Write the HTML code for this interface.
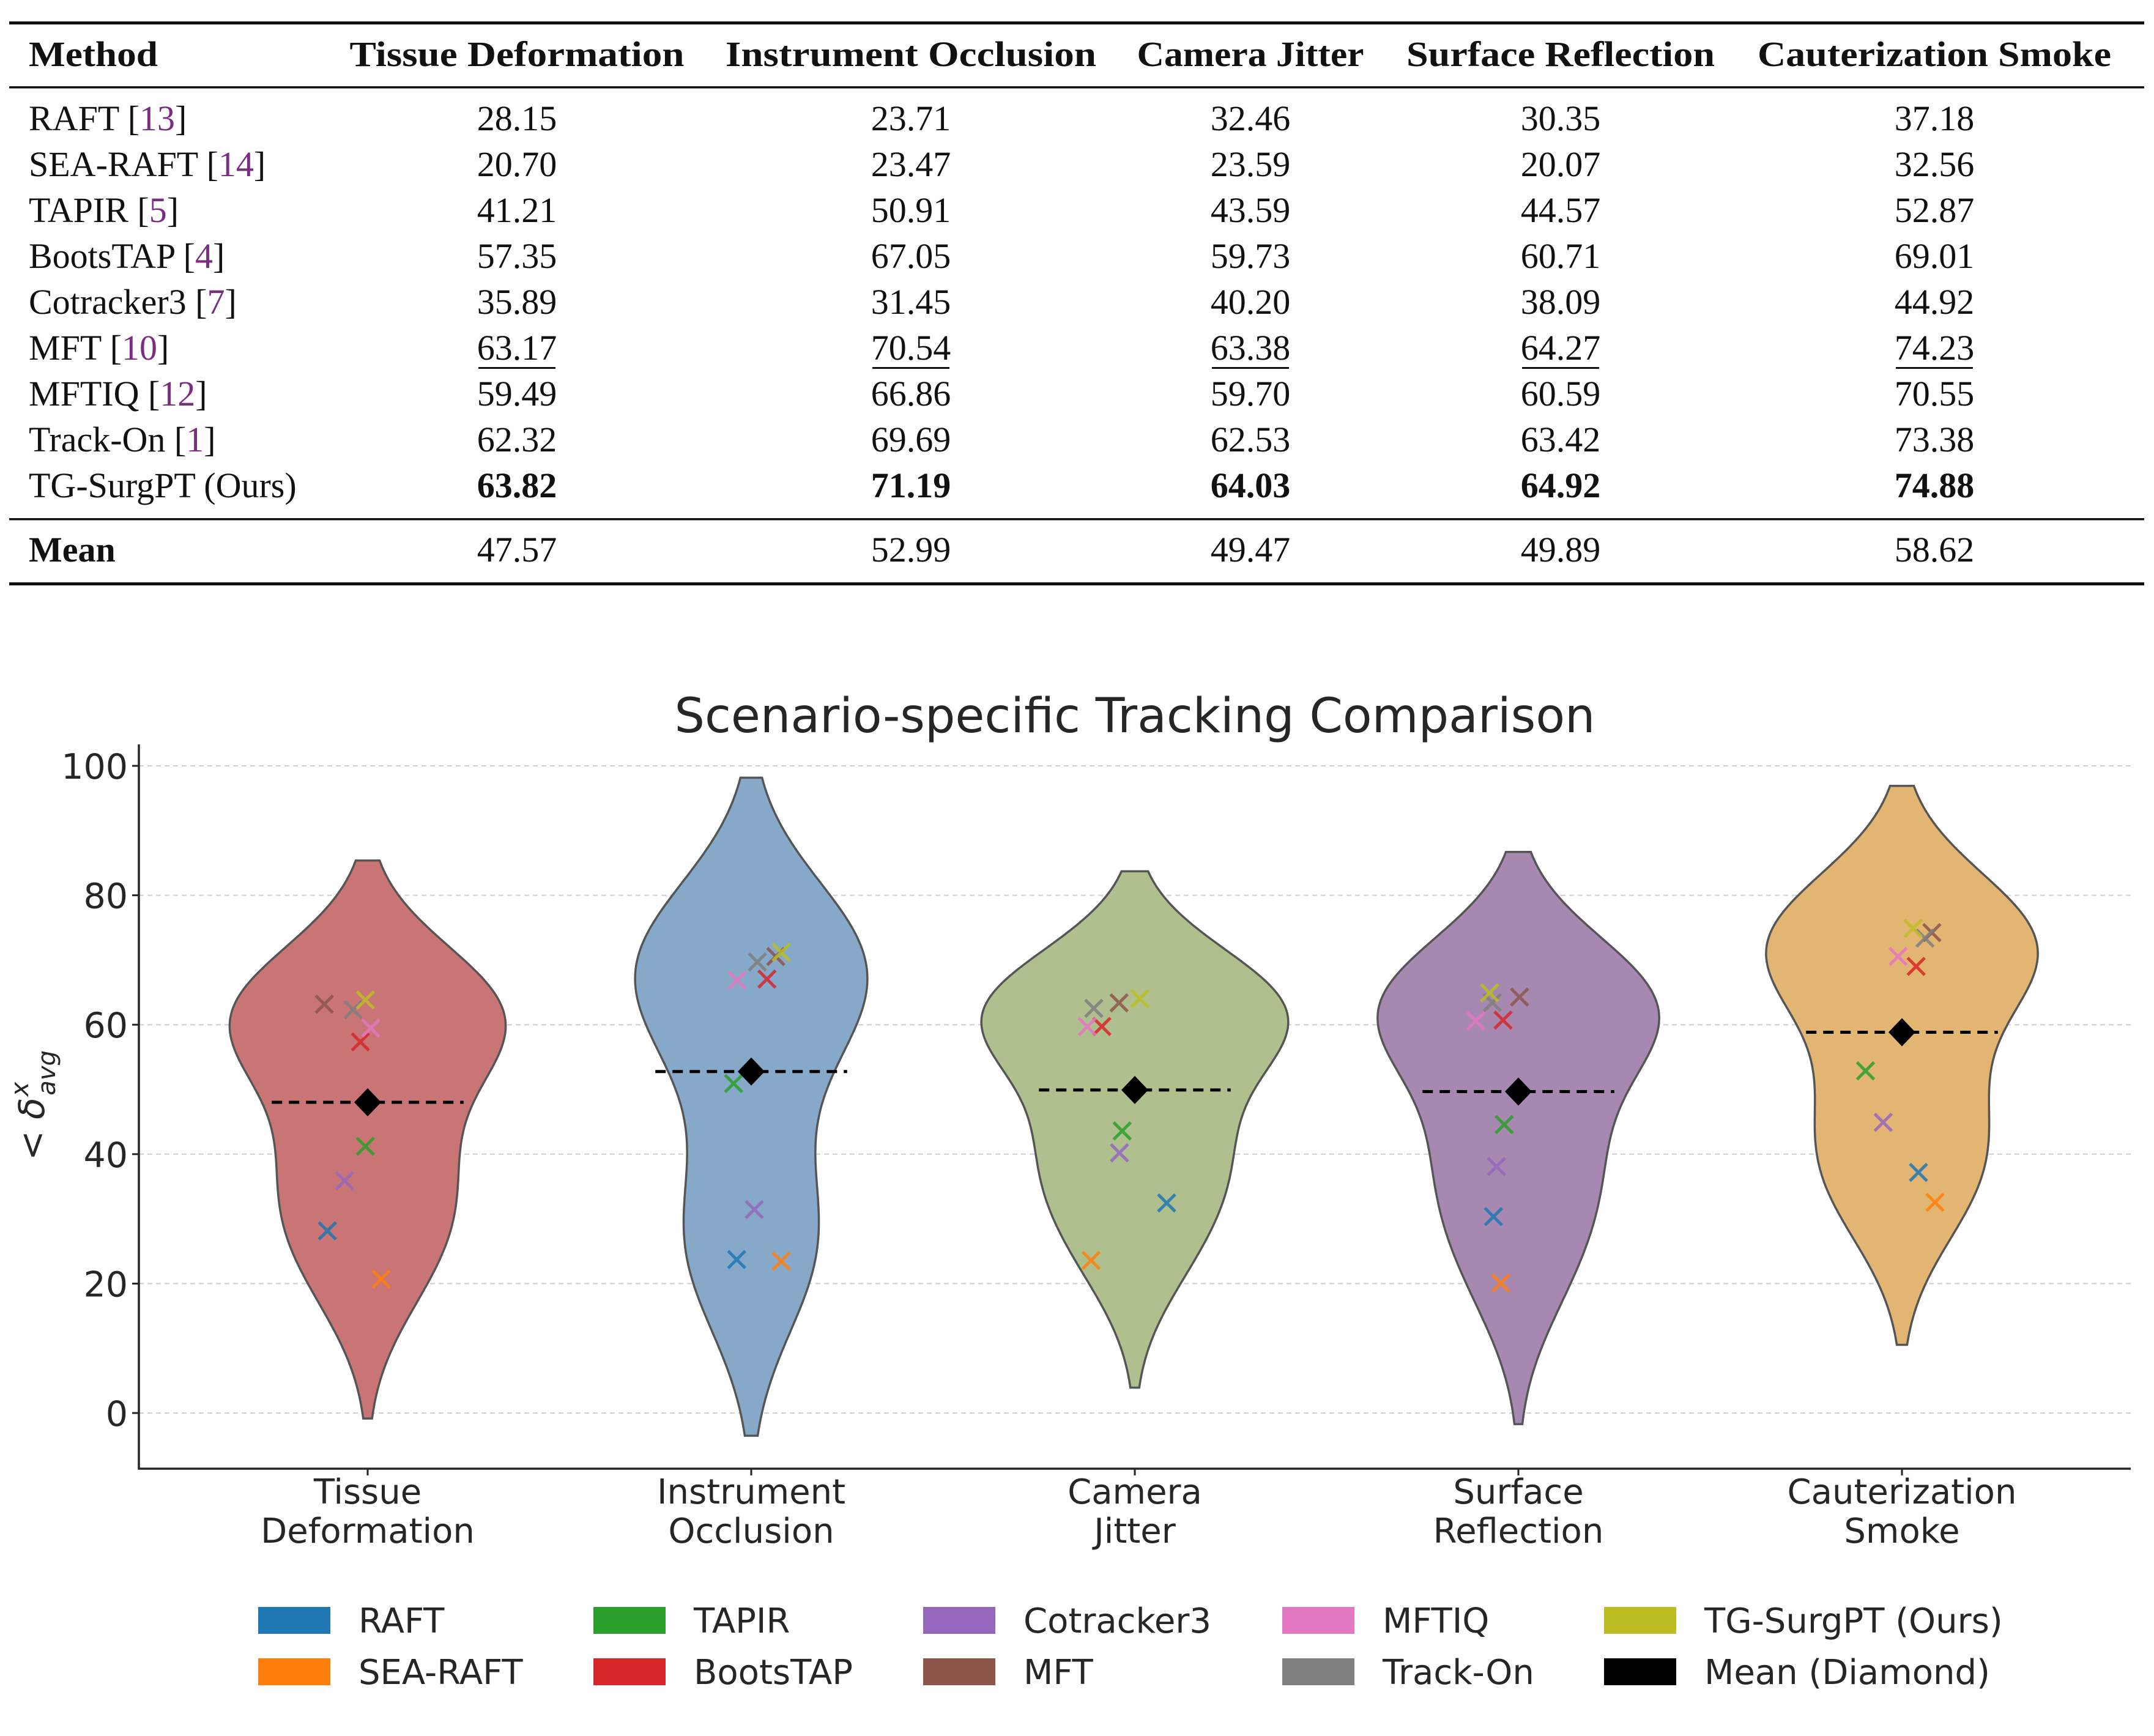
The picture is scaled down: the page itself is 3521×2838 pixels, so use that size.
<!DOCTYPE html>
<html><head><meta charset="utf-8">
<style>
html,body{margin:0;padding:0;background:#fff;}
svg{display:block;}
.tb{font-family:"Liberation Serif",serif;font-size:58px;fill:#111;}
.ch{font-family:"DejaVu Sans","Liberation Sans",sans-serif;fill:#262626;}
</style></head>
<body>
<svg id="page" width="3521" height="2838" viewBox="0 0 3521 2838" xmlns="http://www.w3.org/2000/svg">
<g id="table"></g>
<g id="chart"></g>
</svg>
<script>
const categories = ["Tissue Deformation","Instrument Occlusion","Camera Jitter","Surface Reflection","Cauterization Smoke"];
const catLines = [["Tissue","Deformation"],["Instrument","Occlusion"],["Camera","Jitter"],["Surface","Reflection"],["Cauterization","Smoke"]];
const methods = ["RAFT","SEA-RAFT","TAPIR","BootsTAP","Cotracker3","MFT","MFTIQ","Track-On","TG-SurgPT (Ours)"];
const cites = ["13","14","5","4","7","10","12","1",""];
const raft = [28.15,23.71,32.46,30.35,37.18];
const seaRaft = [20.70,23.47,23.59,20.07,32.56];
const tapir = [41.21,50.91,43.59,44.57,52.87];
const bootsTap = [57.35,67.05,59.73,60.71,69.01];
const cotracker3 = [35.89,31.45,40.20,38.09,44.92];
const mft = [63.17,70.54,63.38,64.27,74.23];
const mftiq = [59.49,66.86,59.70,60.59,70.55];
const trackOn = [62.32,69.69,62.53,63.42,73.38];
const tgSurgPT = [63.82,71.19,64.03,64.92,74.88];
const tableMeans = ["47.57","52.99","49.47","49.89","58.62"];
const yTicks = [0,20,40,60,80,100];
// horizontal jitter of markers (category units), per scenario, in method order
const jitterTissue = [-0.105,0.035,-0.006,-0.019,-0.060,-0.113,0.008,-0.038,-0.006];
const jitterInstr = [-0.038,0.078,-0.046,0.041,0.008,0.064,-0.037,0.016,0.078];
const jitterCamera = [0.083,-0.114,-0.033,-0.086,-0.040,-0.041,-0.124,-0.107,0.013];
const jitterSurface = [-0.065,-0.046,-0.037,-0.040,-0.057,0.003,-0.111,-0.068,-0.075];
const jitterCaut = [0.043,0.086,-0.095,0.037,-0.049,0.078,-0.010,0.060,0.029];

const series = [raft,seaRaft,tapir,bootsTap,cotracker3,mft,mftiq,trackOn,tgSurgPT];
const jitters = [jitterTissue,jitterInstr,jitterCamera,jitterSurface,jitterCaut];
const methodColors = ["#1f77b4","#ff7f0e","#2ca02c","#d62728","#9467bd","#8c564b","#e377c2","#7f7f7f","#bcbd22"];
const violinColors = ["#c97575","#87a9c9","#afc08e","#a788b1","#e3b572"];

const NS="http://www.w3.org/2000/svg";
function mk(tag,attrs,parent,txt){const e=document.createElementNS(NS,tag);for(const k in attrs)e.setAttribute(k,attrs[k]);if(txt!==undefined)e.textContent=txt;parent.appendChild(e);return e;}

/* ---------------- TABLE ---------------- */
const T=document.getElementById('table');
const colX=[845,1489,2044,2551,3162];
const headW=[547,606,371,504,578];
let r=mk('rect',{x:15,y:35,width:3490,height:5,fill:'#111'},T);

r=mk('rect',{x:15,y:141,width:3490,height:3.5,fill:'#111'},T);

r=mk('rect',{x:15,y:847,width:3490,height:3.5,fill:'#111'},T);

r=mk('rect',{x:15,y:952,width:3490,height:5,fill:'#111'},T);

let t=mk('text',{x:47,y:108,class:'tb','font-weight':'bold',textLength:211,lengthAdjust:'spacingAndGlyphs'},T,'Method');

categories.forEach((c,i)=>{
  const h=mk('text',{x:colX[i],y:108,class:'tb','font-weight':'bold','text-anchor':'middle',textLength:headW[i],lengthAdjust:'spacingAndGlyphs'},T,c);
  
  
});
methods.forEach((m,k)=>{
  const y=213+75*k;
  const lab=mk('text',{x:47,y:y,class:'tb'},T);
  
  
  if(cites[k]){
    mk('tspan',{},lab,m+' [');
    mk('tspan',{fill:'#7b2d82'},lab,cites[k]);
    mk('tspan',{},lab,']');
  } else { lab.textContent=m; }
  series[k].forEach((v,i)=>{
    const c=mk('text',{x:colX[i],y:y,class:'tb','text-anchor':'middle','font-weight':k===8?'bold':'normal'},T,v.toFixed(2));
    
    
    if(k===5){
      const u=mk('rect',{x:colX[i]-63,y:y+12,width:126,height:3,fill:'#111'},T);
      
      
    }
  });
});
t=mk('text',{x:47,y:918,class:'tb','font-weight':'bold'},T,'Mean');

tableMeans.forEach((v,i)=>{
  const c=mk('text',{x:colX[i],y:918,class:'tb','text-anchor':'middle'},T,v);
  
  
});

/* ---------------- CHART ---------------- */
const C=document.getElementById('chart');
const axL=227, axR=3483, axT=1217, axB=2401;
const x0=601, step=627;
function xs(i){return x0+step*i;}
function ys(v){return 2310-(v)*10.58;}

t=mk('text',{x:1855,y:1197,class:'ch','font-size':78,'text-anchor':'middle',textLength:1505,lengthAdjust:'spacingAndGlyphs'},C,'Scenario-specific Tracking Comparison');


yTicks.forEach(v=>{
  const g=mk('line',{x1:axL,x2:axR,y1:ys(v),y2:ys(v),stroke:'#cfcfcf','stroke-width':2,'stroke-dasharray':'8,6'},C);
  
  
  const tk=mk('line',{x1:axL-11,x2:axL,y1:ys(v),y2:ys(v),stroke:'#262626','stroke-width':3},C);
  
  
  const tl=mk('text',{x:axL-18,y:ys(v)+21,class:'ch','font-size':57,'text-anchor':'end'},C,String(v));
  
  
});

// KDE violins (seaborn-like: scott bw, cut=2, scale=area)
function stats(a){const n=a.length;const m=a.reduce((s,v)=>s+v,0)/n;const sd=Math.sqrt(a.reduce((s,v)=>s+(v-m)*(v-m),0)/(n-1));return {n,m,sd};}
const violins=categories.map((c,i)=>{
  const d=series.map(s=>s[i]);
  const st=stats(d);
  const bw=Math.pow(st.n,-0.2)*st.sd;
  const lo=Math.min(...d)-2*bw, hi=Math.max(...d)+2*bw;
  const pts=[];
  for(let j=0;j<=200;j++){
    const y=lo+(hi-lo)*j/200;
    let den=0;d.forEach(v=>{const z=(y-v)/bw;den+=Math.exp(-0.5*z*z);});
    den/=(st.n*bw*Math.sqrt(2*Math.PI));
    pts.push([y,den]);
  }
  return {d,mean:st.m,pts};
});
const gmax=Math.max(...violins.map(v=>Math.max(...v.pts.map(p=>p[1]))));
violins.forEach((v,i)=>{
  const cx=xs(i);
  let p='';
  v.pts.forEach((q,j)=>{const w=0.4*step*q[1]/gmax;p+=(j?'L':'M')+(cx+w).toFixed(1)+','+ys(q[0]).toFixed(1);});
  for(let j=v.pts.length-1;j>=0;j--){const q=v.pts[j];const w=0.4*step*q[1]/gmax;p+='L'+(cx-w).toFixed(1)+','+ys(q[0]).toFixed(1);}
  p+='Z';
  const vp=mk('path',{d:p,fill:violinColors[i],stroke:'#555','stroke-width':3.5},C);
  
  
});
// markers
violins.forEach((v,i)=>{
  v.d.forEach((val,k)=>{
    const x=xs(i+jitters[i][k]), y=ys(val), s=14;
    const m=mk('path',{d:`M${x-s},${y-s}L${x+s},${y+s}M${x-s},${y+s}L${x+s},${y-s}`,stroke:methodColors[k],'stroke-width':5,'stroke-opacity':0.85,fill:'none'},C);
    
    
  });
});
// mean lines + diamonds
violins.forEach((v,i)=>{
  const cx=xs(i), y=ys(v.mean);
  const l=mk('line',{x1:cx-0.25*step,x2:cx+0.25*step,y1:y,y2:y,stroke:'#000','stroke-width':5,'stroke-dasharray':'17,11'},C);
  
  
  const dm=mk('path',{d:`M${cx},${y-23}L${cx+22},${y}L${cx},${y+23}L${cx-22},${y}Z`,fill:'#000'},C);
  
  
});
// axes
let a=mk('line',{x1:axL,x2:axL,y1:axT,y2:axB+1.5,stroke:'#262626','stroke-width':3.5},C);

a=mk('line',{x1:axL-1.5,x2:axR,y1:axB,y2:axB,stroke:'#262626','stroke-width':3.5},C);

catLines.forEach((ls,i)=>{
  const tk=mk('line',{x1:xs(i),x2:xs(i),y1:axB,y2:axB+11,stroke:'#262626','stroke-width':3},C);
  
  
  ls.forEach((s,j)=>{
    const tl=mk('text',{x:xs(i),y:2458+64*j,class:'ch','font-size':56,'text-anchor':'middle'},C,s);
    
    
  });
});
// y label
const yl=mk('text',{x:0,y:0,class:'ch','font-size':58,'text-anchor':'middle',transform:'translate(72,1807) rotate(-90)'},C);


mk('tspan',{},yl,'< ');
mk('tspan',{'font-style':'italic'},yl,'δ');
mk('tspan',{'font-style':'italic','font-size':40,dy:-26,dx:2},yl,'x');
mk('tspan',{'font-style':'italic','font-size':40,dy:44,dx:-22},yl,'avg');

// legend
const legCols=[422,970,1509,2096,2622];
const legItems=[["RAFT",0],["SEA-RAFT",1],["TAPIR",2],["BootsTAP",3],["Cotracker3",4],["MFT",5],["MFTIQ",6],["Track-On",7],["TG-SurgPT (Ours)",8],["Mean (Diamond)",-1]];
legItems.forEach((it,n)=>{
  const col=Math.floor(n/2), row=n%2;
  const x=legCols[col], y=2627+84*row;
  const g=mk('g',{},C);
  
  
  mk('rect',{x:x,y:y,width:118,height:44,fill:it[1]<0?'#000':methodColors[it[1]]},g);
  mk('text',{x:x+164,y:y+42,class:'ch','font-size':56},g,it[0]);
});
</script>
</body></html>
